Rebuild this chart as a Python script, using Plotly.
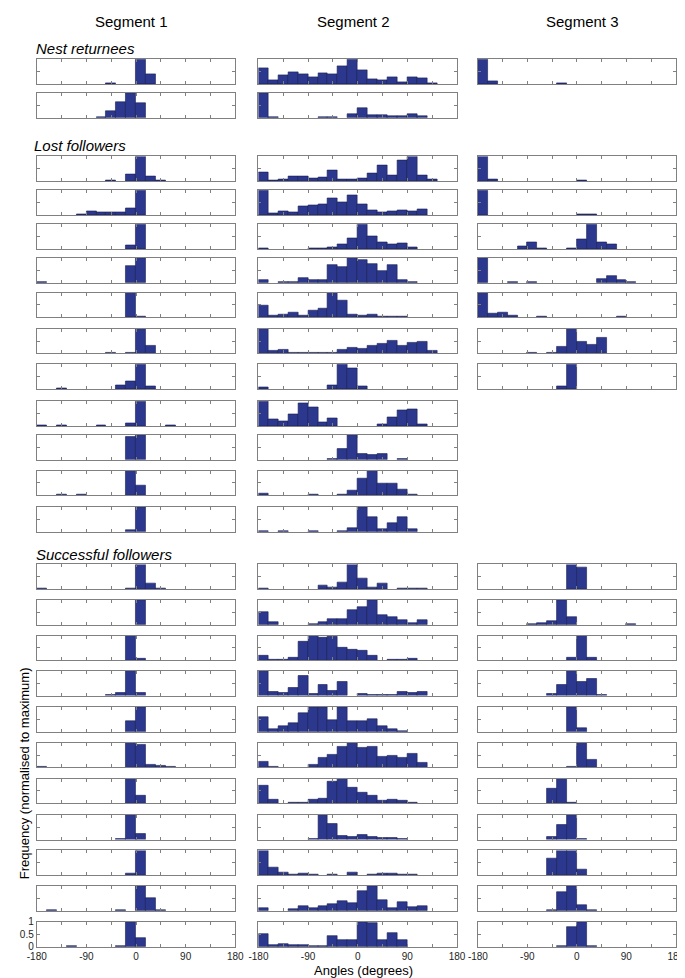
import plotly.graph_objects as go

# ---------------- data (normalised histogram heights, 20 bins of 18 deg) ----------------
bin_centers = [-171, -153, -135, -117, -99, -81, -63, -45, -27, -9,
               9, 27, 45, 63, 81, 99, 117, 135, 153, 171]

x_tick_values = [-180, -135, -90, -45, 0, 45, 90, 135, 180]
x_tick_labels = ["-180", "", "-90", "", "0", "", "90", "", "180"]
y_tick_values = [0, 0.5, 1]
y_tick_labels = ["0", "0.5", "1"]

segment_titles = ["Segment 1", "Segment 2", "Segment 3"]
group_titles = ["Nest returnees", "Lost followers", "Successful followers"]
x_title = "Angles (degrees)"
y_title = "Frequency (normalised to maximum)"

seg1_nest = [
    [0,0,0,0,0,0,0,.02,0,0,1,.39,0,0,0,0,0,0,0,0],
    [0,0,0,0,0,0,.02,.28,.63,1,.6,0,0,0,0,0,0,0,0,0],
]
seg1_lost = [
    [0,0,0,0,0,0,0,.01,0,.28,1,.21,.03,0,0,0,0,0,0,0],
    [0,0,0,0,.02,.16,.11,.12,.11,.28,1,0,0,0,0,0,0,0,0,0],
    [0,0,0,0,0,0,0,0,0,.16,1,0,0,0,0,0,0,0,0,0],
    [.02,0,0,0,0,0,0,0,0,.69,1,0,0,0,0,0,0,0,0,0],
    [0,0,0,0,0,0,0,0,0,1,.02,0,0,0,0,0,0,0,0,0],
    [0,0,0,0,0,0,0,.02,0,.03,1,.31,0,0,0,0,0,0,0,0],
    [0,0,.01,0,0,0,0,0,.16,.31,1,.12,0,0,0,0,0,0,0,0],
    [.02,0,.02,0,0,0,.02,0,0,.12,1,0,0,.02,0,0,0,0,0,0],
    [0,0,0,0,0,0,0,0,0,.93,1,0,0,0,0,0,0,0,0,0],
    [0,0,.02,0,.02,0,0,0,0,1,.4,0,0,0,0,0,0,0,0,0],
    [0,0,0,0,0,0,0,0,0,.07,1,0,0,0,0,0,0,0,0,0],
]
seg1_success = [
    [.01,0,0,0,0,0,0,0,0,.02,1,.22,.03,0,0,0,0,0,0,0],
    [0,0,0,0,0,0,0,0,0,0,1,0,0,0,0,0,0,0,0,0],
    [0,0,0,0,0,0,0,0,0,1,.05,0,0,0,0,0,0,0,0,0],
    [0,0,0,0,0,0,0,.02,.09,1,.12,0,0,0,0,0,0,0,0,0],
    [0,0,0,0,0,0,0,0,0,.45,1,0,0,0,0,0,0,0,0,0],
    [.02,0,0,0,0,0,0,0,0,1,.91,.13,.05,.01,0,0,0,0,0,0],
    [0,0,0,0,0,0,0,0,0,1,.33,0,0,0,0,0,0,0,0,0],
    [0,0,0,0,0,0,0,0,.03,1,.25,0,0,0,0,0,0,0,0,0],
    [0,0,0,0,0,0,0,0,0,.07,1,0,0,0,0,0,0,0,0,0],
    [0,.01,0,0,0,0,0,0,.01,0,1,.51,.02,0,0,0,0,0,0,0],
    [0,0,0,.01,0,0,0,0,.02,1,.35,0,0,0,0,0,0,0,0,0],
]

seg2_nest = [
    [.63,.16,.36,.49,.39,.27,.44,.39,.72,1,.56,.19,.15,.29,.07,.27,.24,.04,0,0],
    [1,.02,0,0,0,0,.01,.01,0,.17,.38,.13,.09,.05,.07,.14,.07,0,0,0],
]
seg2_lost = [
    [.34,.04,.08,.2,.21,.13,.17,.42,.07,.08,.12,.3,.63,.24,.84,1,.24,.08,0,0],
    [1,.08,.15,.12,.35,.41,.44,.69,.51,.8,.45,.2,.13,.17,.19,.17,.24,0,0,0],
    [.03,0,0,0,0,.01,.01,.05,.18,.42,1,.5,.27,.18,.24,.08,0,0,0,0],
    [.11,0,.03,.01,.21,.12,.09,.73,.63,1,.93,.76,.48,.73,.13,.03,0,0,0,0],
    [.49,.07,.12,.18,.08,.29,.36,1,.68,.12,.08,.12,.03,.01,.04,0,0,0,0,0],
    [1,.09,.15,.01,.01,.04,.03,.04,.15,.23,.2,.31,.39,.53,.33,.44,.49,.13,0,0],
    [.05,0,0,0,0,0,0,.15,1,.84,.12,0,0,0,0,0,0,0,0,0],
    [1,.28,.2,.48,.93,.75,.16,.31,0,0,0,0,.07,.36,.65,.67,.08,0,0,0],
    [0,0,0,0,0,0,0,.04,.43,1,.25,.2,.24,0,.04,0,0,0,0,0],
    [.08,0,0,0,0,.01,0,0,.03,.21,.68,1,.49,.49,.25,.04,0,0,0,0],
    [.04,0,.01,0,0,.01,0,0,.03,.14,1,.58,.12,.35,.58,.11,0,0,0,0],
]
seg2_success = [
    [.04,0,0,0,0,0,.15,.07,.27,1,.45,.08,.23,0,.01,.01,.04,0,0,0],
    [.51,.11,0,0,0,.04,.12,.23,.23,.59,.73,1,.41,.32,.19,.08,.19,0,0,0],
    [.2,.03,.03,.13,.74,1,.9,.95,.51,.43,.41,.2,0,.03,.03,.07,0,0,0,0],
    [1,.17,.1,.3,.81,.06,.43,.21,.55,0,.06,.03,.03,.03,.17,.12,.17,0,0,0],
    [.58,.13,.25,.35,.75,1,1,.47,1,.45,.45,.53,.25,.09,.03,0,0,0,0,0],
    [.23,.04,0,0,0,.1,.39,.52,.84,1,.79,.84,.43,.47,.39,.55,.19,0,0,0],
    [.71,.16,0,.04,.04,.17,.2,.87,1,.63,.43,.31,.13,.16,.11,.04,0,0,0,0],
    [0,0,0,0,0,.01,1,.63,.16,.09,.2,.12,.08,.05,.04,0,0,0,0,0],
    [1,.33,.11,.03,.07,.03,0,.04,0,.09,0,.04,.05,.08,.04,.01,0,0,0,0],
    [.09,0,0,.07,.2,.09,.2,.26,.39,.3,.8,1,.42,.09,.36,.16,.2,0,0,0],
    [.53,.07,.13,.07,.07,.01,.01,.43,.29,.29,1,.96,.29,.56,.29,0,0,0,0,0],
]

seg3_nest = [
    [1,.11,0,0,0,0,0,0,.01,0,0,0,0,0,0,0,0,0,0,0],
    None,
]
seg3_lost = [
    [1,.07,0,0,0,0,0,0,0,0,.01,0,0,0,0,0,0,0,0,0],
    [1,0,0,0,0,0,0,0,0,0,.01,.01,0,0,0,0,0,0,0,0],
    [0,0,0,0,.09,.28,.03,0,0,.01,.41,1,.28,.19,0,0,0,0,0,0],
    [1,0,0,.01,0,.01,0,0,0,0,0,0,.17,.29,.13,.03,0,0,0,0],
    [1,.15,.21,.07,0,0,.01,0,0,0,0,0,0,0,.01,0,0,0,0,0],
    [0,0,0,0,0,.01,0,.01,.27,1,.47,.37,.64,0,0,0,0,0,0,0],
    [0,0,0,0,0,0,0,0,.12,1,0,0,0,0,0,0,0,0,0,0],
    None, None, None, None,
]
seg3_success = [
    [0,0,0,0,0,0,0,0,0,1,.88,0,0,0,0,0,0,0,0,0],
    [0,0,0,0,0,.04,.07,.14,1,.31,0,0,0,0,0,.01,0,0,0,0],
    [0,0,0,0,0,0,0,0,0,.12,1,.11,0,0,0,0,0,0,0,0],
    [0,0,0,0,0,0,0,.06,.44,1,.56,.69,.03,0,0,0,0,0,0,0],
    [0,0,0,0,0,0,0,0,0,1,.16,0,0,0,0,0,0,0,0,0],
    [0,0,0,0,0,0,0,0,0,.03,1,.32,0,0,0,0,0,0,0,0],
    [0,0,0,0,0,0,0,.6,1,.01,0,0,0,0,0,0,0,0,0,0],
    [0,0,0,0,0,0,0,.09,.59,1,.01,0,0,0,0,0,0,0,0,0],
    [0,0,0,0,0,0,0,.69,1,1,.24,0,0,0,0,0,0,0,0,0],
    [0,0,0,0,0,0,0,.03,.74,1,.24,.04,0,0,0,0,0,0,0,0],
    [0,0,0,0,0,0,0,0,.01,.79,1,.01,0,0,0,0,0,0,0,0],
]

# ---------------- layout geometry (pixels) ----------------
W, H = 685, 978
row_tops = [45.7, 80,
            144, 178.3, 212.7, 246.7, 281.7, 318.3, 354.3, 391.7, 425.7, 461.7, 498.7,
            556.7, 592.7, 628.7, 664.3, 701, 737, 773.3, 810, 846, 882, 918.3]
box_h = 25
col_x = [(19.3, 223.5), (247.3, 451.5), (473, 676.5)]
group_label_pos = [(16, 35), (14, 132.7), (16.5, 546.7)]
seg_title_x = [117, 345, 581]

bar_fill = "rgb(44,56,142)"
bar_edge = "rgb(22,28,80)"
frame = "rgb(128,128,128)"
FONT = "Arial, Liberation Sans, sans-serif"

columns = [seg1_nest + seg1_lost + seg1_success,
           seg2_nest + seg2_lost + seg2_success,
           seg3_nest + seg3_lost + seg3_success]

fig = go.Figure()
layout = dict(width=W, height=H, margin=dict(l=0, r=0, t=0, b=0),
              paper_bgcolor="white", plot_bgcolor="white", showlegend=False,
              bargap=0, font=dict(family=FONT, color="black"))

last_row = len(row_tops) - 1
k = 0
for c, rows in enumerate(columns):
    x0, x1 = col_x[c]
    for r, vals in enumerate(rows):
        if vals is None:
            continue
        k += 1
        sfx = "" if k == 1 else str(k)
        top = row_tops[r]
        y_dom = [1 - (top + box_h) / H, 1 - top / H]
        fig.add_trace(go.Bar(
            x=bin_centers, y=[v if v > 0 else None for v in vals], width=18,
            marker=dict(color=bar_fill, line=dict(color=bar_edge, width=0.6)),
            xaxis="x" + sfx, yaxis="y" + sfx, hoverinfo="x+y"))
        bottom = r == last_row
        layout["xaxis" + sfx] = dict(
            domain=[x0 / W, x1 / W], anchor="y" + sfx, range=[-180, 180],
            tickvals=x_tick_values, ticktext=x_tick_labels,
            showticklabels=bottom, ticks="inside", ticklen=3, tickwidth=1,
            tickcolor=frame, showline=True, linecolor=frame, linewidth=1,
            mirror="ticks", showgrid=False, zeroline=False,
            tickfont=dict(size=10, color="rgb(30,30,30)", family=FONT))
        layout["yaxis" + sfx] = dict(
            domain=y_dom, anchor="x" + sfx, range=[0, 1],
            tickvals=y_tick_values, ticktext=y_tick_labels,
            showticklabels=(bottom and c == 0), ticks="inside", ticklen=3,
            tickwidth=1, tickcolor=frame, showline=True, linecolor=frame,
            linewidth=1, mirror="ticks", showgrid=False, zeroline=False,
            tickfont=dict(size=10, color="rgb(30,30,30)", family=FONT))

annotations = []
for c in range(3):
    annotations.append(dict(text=segment_titles[c], x=seg_title_x[c] / W, y=1 - 8 / H,
                            xref="paper", yref="paper", showarrow=False,
                            xanchor="center", yanchor="middle",
                            font=dict(size=15, family=FONT, color="black")))
for g in range(3):
    gx, gy = group_label_pos[g]
    annotations.append(dict(text="<i>" + group_titles[g] + "</i>", x=gx / W, y=1 - gy / H,
                            xref="paper", yref="paper", showarrow=False,
                            xanchor="left", yanchor="middle",
                            font=dict(size=15, family=FONT, color="black")))
annotations.append(dict(text=x_title, x=355.7 / W, y=1 - 967 / H, xref="paper", yref="paper",
                        showarrow=False, xanchor="center", yanchor="middle",
                        font=dict(size=13, family=FONT, color="black")))
annotations.append(dict(text=y_title, x=7 / W, y=1 - 768 / H, xref="paper", yref="paper",
                        showarrow=False, xanchor="center", yanchor="middle", textangle=-90,
                        font=dict(size=13, family=FONT, color="black")))
layout["annotations"] = annotations

fig.update_layout(**layout)
fig.write_html("out.html")
